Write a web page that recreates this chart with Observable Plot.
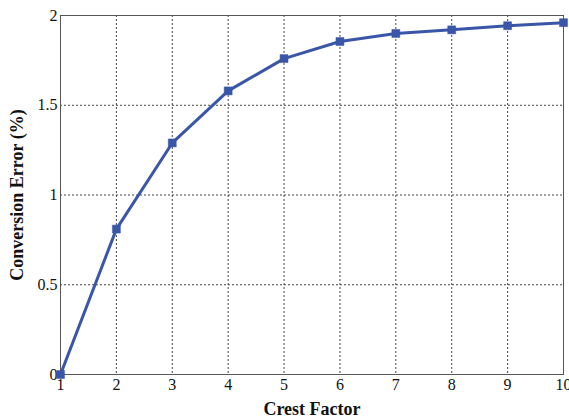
<!DOCTYPE html>
<html><head><meta charset="utf-8">
<script src="https://cdn.jsdelivr.net/npm/d3@7"></script>
<script src="https://cdn.jsdelivr.net/npm/@observablehq/plot@0.6"></script>
<style>body{margin:0;background:#fff}</style>
</head><body><div id="chart"></div>
<script>
const crestFactor = [1, 2, 3, 4, 5, 6, 7, 8, 9, 10];
const conversionError = [0, 0.81, 1.29, 1.58, 1.76, 1.855, 1.90, 1.92, 1.943, 1.96];
const xTicks = [1, 2, 3, 4, 5, 6, 7, 8, 9, 10];
const yTicks = [0, 0.5, 1, 1.5, 2];
const data = crestFactor.map((x, i) => ({x, y: conversionError[i]}));
const color = "#3a56a8";
const chart = Plot.plot({
  width: 569, height: 419,
  marginLeft: 60, marginRight: 6, marginTop: 15, marginBottom: 45,
  style: {fontFamily: "'Liberation Serif', 'Times New Roman', serif", fontSize: "16px", background: "#fff"},
  x: {domain: [1, 10], ticks: xTicks, tickSize: 0, tickPadding: 4, label: null},
  y: {domain: [0, 2], ticks: yTicks, tickSize: 0, tickPadding: 3, label: null, tickFormat: d => String(d)},
  marks: [
    Plot.ruleX(xTicks.slice(1, -1), {stroke: "#444", strokeDasharray: "2,2", strokeWidth: 1}),
    Plot.ruleY(yTicks.slice(1, -1), {stroke: "#444", strokeDasharray: "2,2", strokeWidth: 1}),
    Plot.frame({stroke: "#555", strokeWidth: 1}),
    Plot.axisX({ticks: xTicks, tickSize: 0, tickPadding: 4, fontSize: 16, fill: "#111"}),
    Plot.axisY({ticks: yTicks, tickSize: 0, tickPadding: 3, fontSize: 16, fill: "#111", tickFormat: d => String(d)}),
    Plot.line(data, {x: "x", y: "y", stroke: color, strokeWidth: 3}),
    Plot.dot(data, {x: "x", y: "y", symbol: "square", r: 4.5, fill: color, stroke: color, strokeWidth: 0.5}),
    Plot.text(["Crest Factor"], {frameAnchor: "bottom", dy: 35, lineAnchor: "middle", text: d => d, fontWeight: "bold", fontSize: 18, fill: "#111"}),
    Plot.text(["Conversion Error (%)"], {frameAnchor: "left", dx: -43, rotate: -90, textAnchor: "middle", lineAnchor: "middle", text: d => d, fontWeight: "bold", fontSize: 18, fill: "#111"})
  ]
});
document.getElementById("chart").appendChild(chart);
</script>
</body></html>
